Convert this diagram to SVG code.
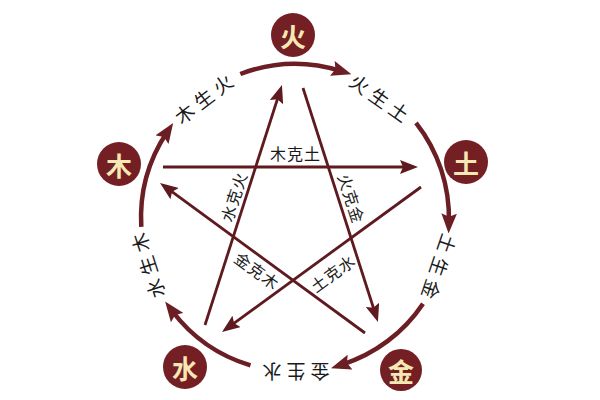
<svg xmlns="http://www.w3.org/2000/svg" width="600" height="400" viewBox="0 0 600 400">
<style>
.arc{fill:none;stroke:#6b1f24;stroke-width:4.5;marker-end:url(#ah)}
.ke{fill:none;stroke:#5e1a1e;stroke-width:2.8;marker-end:url(#ah2)}
.lbl{font-family:"Noto Sans CJK SC","Noto Sans CJK JP",sans-serif;font-size:19px;fill:#1a1a1a;text-anchor:middle;dominant-baseline:central}
.klbl{font-family:"Noto Sans CJK SC","Noto Sans CJK JP",sans-serif;font-size:16px;fill:#1a1a1a;text-anchor:middle;dominant-baseline:central}
.nc{fill:#731f23}
.nt{font-family:"Noto Sans CJK SC","Noto Sans CJK JP",sans-serif;font-size:26px;font-weight:bold;fill:#f6e8b4;text-anchor:middle;dominant-baseline:central}
</style>
<defs>
<marker id="ah" markerUnits="userSpaceOnUse" markerWidth="20" markerHeight="16" viewBox="0 0 18 14" refX="8" refY="7" orient="auto">
<path d="M0,0 L18,7 L0,14 L3,7 z" fill="#6b1f24"/>
</marker>
<marker id="ah2" markerUnits="userSpaceOnUse" markerWidth="18" markerHeight="14" viewBox="0 0 18 14" refX="8" refY="7" orient="auto">
<path d="M0,0 L18,7 L0,14 L3,7 z" fill="#5e1a1e"/>
</marker>
</defs>
<rect width="600" height="400" fill="#ffffff"/>
<g id="connectors">
<path class="arc" d="M141.3,226.9 A154,154 0 0 1 167.0,132.3"/>
<path class="arc" d="M240.3,74.0 A154,154 0 0 1 340.8,71.0"/>
<path class="arc" d="M416.0,122.8 A154,154 0 0 1 448.9,222.3"/>
<path class="arc" d="M423.0,303.7 A154,154 0 0 1 341.6,364.8"/>
<path class="arc" d="M250.5,365.4 A154,154 0 0 1 171.8,310.5"/>
<path class="ke" d="M163,167 L408,167"/>
<path class="ke" d="M205,325 L278.9,94.5"/>
<path class="ke" d="M303,88 L374.9,312.5"/>
<path class="ke" d="M365,333 L168.1,188.9"/>
<path class="ke" d="M421,187 L230.1,326.1"/>
<text class="lbl" transform="translate(203,98) rotate(-37.5)" x="-24 0 24" y="0">木生火</text>
<text class="lbl" transform="translate(380,97) rotate(35)" x="-24 0 24" y="0">火生土</text>
<text class="lbl" transform="translate(440,267) rotate(108.7)" x="-24 0 24" y="0">土生金</text>
<text class="lbl" transform="translate(296,372) rotate(180)" x="-24 0 24" y="0">金生水</text>
<text class="lbl" transform="translate(147,266) rotate(-108)" x="-24 0 24" y="0">水生木</text>
<text class="klbl" transform="translate(295,153)" x="-17 0 17" y="0">木克土</text>
<text class="klbl" transform="translate(233,197) rotate(-72)" x="-17 0 17" y="0">水克火</text>
<text class="klbl" transform="translate(352,198) rotate(72)" x="-17 0 17" y="0">火克金</text>
<text class="klbl" transform="translate(257,270) rotate(36)" x="-17 0 17" y="0">金克木</text>
<text class="klbl" transform="translate(332,273) rotate(-36)" x="-17 0 17" y="0">土克水</text>
</g>
<g id="fire"><circle class="nc" cx="293" cy="35" r="22"/><text class="nt" x="293" y="35">火</text></g>
<g id="wood"><circle class="nc" cx="119" cy="164" r="22"/><text class="nt" x="119" y="164">木</text></g>
<g id="earth"><circle class="nc" cx="466" cy="162" r="22"/><text class="nt" x="466" y="162">土</text></g>
<g id="water"><circle class="nc" cx="185" cy="367" r="22"/><text class="nt" x="185" y="367">水</text></g>
<g id="metal"><circle class="nc" cx="401" cy="370" r="21"/><text class="nt" x="401" y="370">金</text></g>
</svg>
